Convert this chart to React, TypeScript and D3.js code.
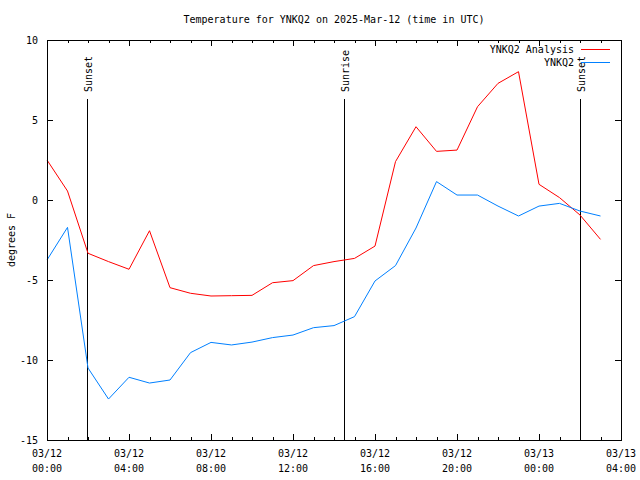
import React from "react";
import * as d3 from "d3";

const hours = [0,1,2,3,4,5,6,7,8,9,10,11,12,13,14,15,16,17,18,19,20,21,22,23,24,25,26,27];
const analysis = [2.5,0.56,-3.33,-3.85,-4.33,-1.92,-5.48,-5.83,-6.0,-5.98,-5.96,-5.17,-5.04,-4.1,-3.85,-3.65,-2.88,2.4,4.58,3.04,3.12,5.83,7.29,8.02,0.98,0.15,-0.94,-2.46];
const observed = [-3.75,-1.71,-10.5,-12.44,-11.08,-11.44,-11.25,-9.54,-8.9,-9.06,-8.88,-8.6,-8.44,-7.98,-7.85,-7.29,-5.06,-4.1,-1.75,1.15,0.31,0.31,-0.38,-1.0,-0.38,-0.21,-0.69,-1.0];
const events = [
  { label: "Sunset", hour: 1.95 },
  { label: "Sunrise", hour: 14.5 },
  { label: "Sunset", hour: 26.02 },
];
const yTicks = [10, 5, 0, -5, -10, -15];
const xMajor = [0, 4, 8, 12, 16, 20, 24, 28];
const xLabels = [
  ["03/12", "00:00"], ["03/12", "04:00"], ["03/12", "08:00"], ["03/12", "12:00"],
  ["03/12", "16:00"], ["03/12", "20:00"], ["03/13", "00:00"], ["03/13", "04:00"],
];
const title = "Temperature for YNKQ2 on 2025-Mar-12 (time in UTC)";

export default function App() {
  const W = 640, H = 480;
  const L = 47, R = 621, T = 40, B = 440;
  const x = d3.scaleLinear().domain([0, 28]).range([L, R]);
  const y = d3.scaleLinear().domain([-15, 10]).range([B, T]);
  const font = "'DejaVu Sans Mono', monospace";
  const line = d3.line<number>().x((_, i) => x(hours[i])).y((d) => y(d));
  const minor = d3.range(0, 29);
  return (
    <svg width={W} height={H} style={{ position: "absolute", left: 0, top: 0, background: "#fff" }}
      fontFamily={font} fontSize={10}>
      <rect x={0} y={0} width={W} height={H} fill="#fff" />
      <text x={334} y={23} textAnchor="middle">{title}</text>
      {minor.map((h) => {
        const len = xMajor.includes(h) ? 6 : 3;
        return (
          <g key={"xt" + h} stroke="#000" strokeWidth={1}>
            <line x1={Math.round(x(h)) + 0.5} x2={Math.round(x(h)) + 0.5} y1={B} y2={B - len} />
            <line x1={Math.round(x(h)) + 0.5} x2={Math.round(x(h)) + 0.5} y1={T} y2={T + len} />
          </g>
        );
      })}
      {yTicks.map((v) => (
        <g key={"yt" + v}>
          <line x1={L} x2={L + 6} y1={Math.round(y(v)) + 0.5} y2={Math.round(y(v)) + 0.5} stroke="#000" />
          <line x1={R} x2={R - 6} y1={Math.round(y(v)) + 0.5} y2={Math.round(y(v)) + 0.5} stroke="#000" />
          <text x={38} y={y(v) + 4} textAnchor="end">{v}</text>
        </g>
      ))}
      {xMajor.map((h, i) => (
        <g key={"xl" + h}>
          <text x={x(h)} y={457} textAnchor="middle">{xLabels[i][0]}</text>
          <text x={x(h)} y={472} textAnchor="middle">{xLabels[i][1]}</text>
        </g>
      ))}
      <text transform={`translate(15,${(T + B) / 2}) rotate(-90)`} textAnchor="middle">degrees F</text>
      {events.map((e, i) => {
        const ex = Math.round(x(e.hour)) + 0.5;
        return (
          <g key={"ev" + i}>
            <line x1={ex} x2={ex} y1={99} y2={B} stroke="#000" strokeWidth={1} />
            <text transform={`translate(${ex + 4},92) rotate(-90)`} textAnchor="start">{e.label}</text>
          </g>
        );
      })}
      <path d={line(analysis) || ""} fill="none" stroke="#ff0000" strokeWidth={1} />
      <path d={line(observed) || ""} fill="none" stroke="#0080ff" strokeWidth={1} />
      <rect x={L + 0.5} y={T + 0.5} width={R - L} height={B - T} fill="none" stroke="#000" />
      <text x={574} y={53} textAnchor="end">YNKQ2 Analysis</text>
      <line x1={581} x2={610} y1={49.5} y2={49.5} stroke="#ff0000" />
      <text x={574} y={66} textAnchor="end">YNKQ2</text>
      <line x1={581} x2={610} y1={62.5} y2={62.5} stroke="#0080ff" />
    </svg>
  );
}
